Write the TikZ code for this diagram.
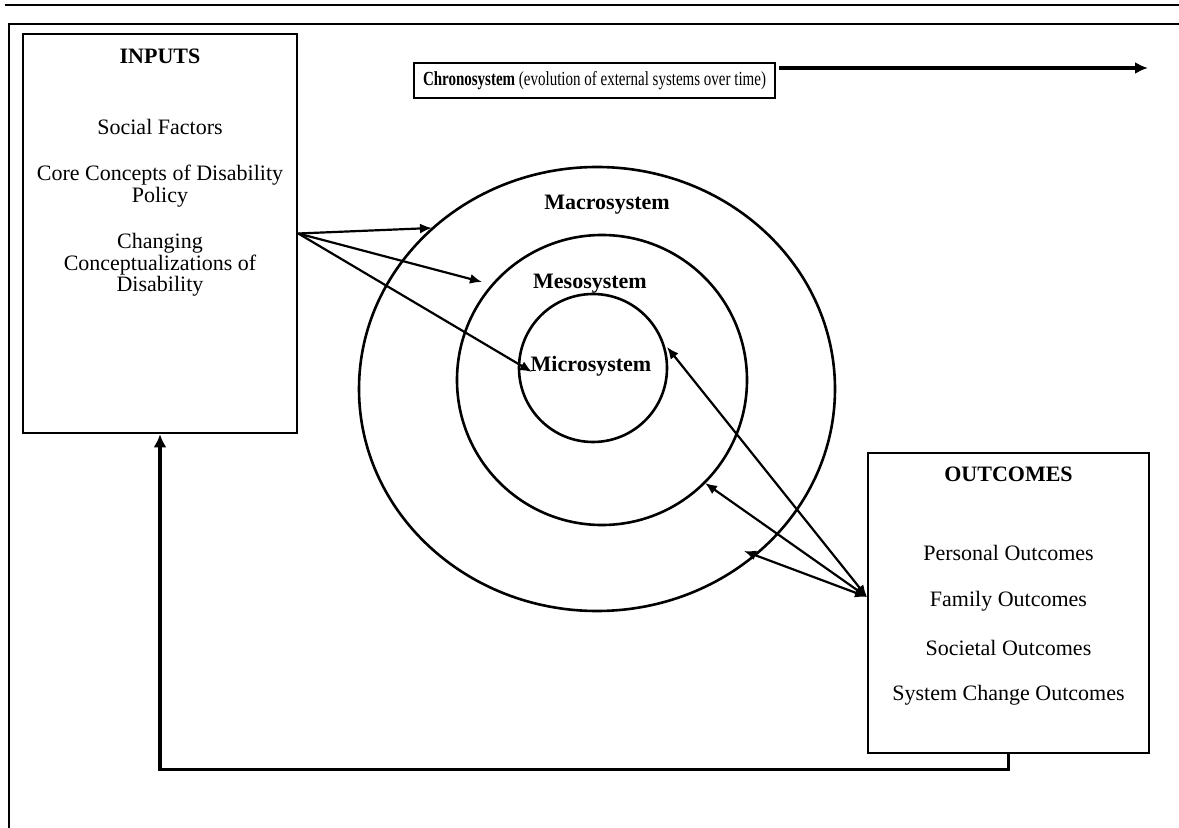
\documentclass[tikz,border=0pt]{standalone}
\usepackage{fontspec}
\usepackage{graphicx}
\setmainfont{Liberation Serif}
\usetikzlibrary{positioning,arrows.meta}
\tikzstyle{panel} = [draw, line width=1.3pt, rectangle, inner sep=0pt]
\tikzstyle{txt} = [align=center, inner sep=0pt, font=\fontsize{11}{10.8}\selectfont]
\tikzstyle{head} = [txt, font=\fontsize{11}{10.8}\selectfont\bfseries]
\tikzstyle{ring} = [draw, line width=1.3pt]
\tikzstyle{link} = [line width=1.1pt, -{Latex[length=6pt,width=5pt]}]
\tikzstyle{duplex} = [line width=1.1pt, {Latex[length=6pt,width=5pt]}-{Latex[length=6pt,width=5pt]}]

\begin{document}
\begin{tikzpicture}[x=0.5pt, y=-0.5pt, >=latex]
	  \useasboundingbox (0,0) rectangle (1179,828);
	  % page rule and frame
	  \draw [line width=1pt] (5,5) -- (1179,5);
	  \draw [line width=1.3pt] (9,828) -- (9,24) -- (1179,24);
	  % inputs
	  \node [panel, minimum width=137pt, minimum height=199.5pt] (inputs) at (160,233.5) {};
	  \node [head] (inputstitle) at (160,56) {INPUTS};
	  \node [txt] (social) at (160,127) {Social Factors};
	  \node [txt] (core) at (160,186) {Core Concepts of Disability\\Policy};
	  \node [txt] (changing) at (160,265) {Changing\\Conceptualizations of\\Disability};
	  % chronosystem
	  \node [panel, line width=1pt, minimum width=180.5pt, minimum height=17.5pt, font=\fontsize{10}{10.8}\selectfont] (chrono) at (594.5,80.5) {\scalebox{0.75}[1]{\textbf{Chronosystem} (evolution of external systems over time)}};
	  \coordinate (chronoend) at (1148,68);
	  \path ([xshift=1.5pt]chrono.east) coordinate (chronostart);
	  \draw [line width=2pt, -{Latex[length=6.5pt,width=6pt]}] (chronostart |- chronoend) -- (chronoend);
	  % systems
	  \coordinate (macro) at (597,389);
	  \coordinate (meso) at (602,380);
	  \coordinate (micro) at (593,368);
	  \draw [ring] (macro) ellipse [x radius=238, y radius=222];
	  \draw [ring] (meso) circle [radius=145];
	  \draw [ring] (micro) circle [radius=74];
	  \node [head] (macrotitle) at (607,205) {Macrosystem};
	  \node [head] (mesotitle) at (590,284) {Mesosystem};
	  \node [head] (microtitle) at (591,366) {Microsystem};
	  % outcomes
	  \node [panel, minimum width=140.5pt, minimum height=150pt] (outcomes) at (1008.5,603) {};
	  \node [head] (outcomestitle) at (1008.5,474) {OUTCOMES};
	  \node [txt] (personal) at (1008.5,553) {Personal Outcomes};
	  \node [txt] (family) at (1008.5,601) {Family Outcomes};
	  \node [txt] (societal) at (1008.5,648) {Societal Outcomes};
	  \node [txt] (syschange) at (1008.5,695) {System Change Outcomes};
	  % influences
	  \coordinate (macroin) at (432,228);
	  \coordinate (mesoin) at (482,282);
	  \coordinate (microin) at (532,372);
	  \draw [link] (inputs.east) -- (macroin);
	  \draw [link] (inputs.east) -- (mesoin);
	  \draw [link] (inputs.east) -- (microin);
	  \coordinate (hub) at (867,597);
	  \coordinate (microout) at (667,347);
	  \coordinate (mesoout) at (705,483);
	  \coordinate (macroout) at (744,551);
	  \draw [duplex] (hub) -- (microout);
	  \draw [duplex] (hub) -- (mesoout);
	  \draw [duplex] (hub) -- (macroout);
	  % feedback
	  \draw [line width=1.6pt, -{Latex[length=6.5pt,width=6.5pt]}] (outcomes.south) -- ++(0,15) -| (inputs.south);
	\end{tikzpicture}
\end{document}
